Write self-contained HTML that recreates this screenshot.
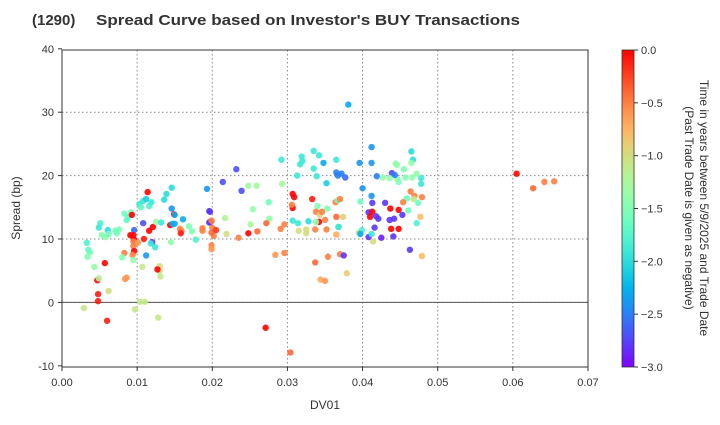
<!DOCTYPE html>
<html><head><meta charset="utf-8"><style>
body{margin:0;background:#fff;font-family:"Liberation Sans",sans-serif}
svg text{font-family:"Liberation Sans",sans-serif;fill:#333}
</style></head><body>
<svg id="c" width="720" height="420">
<defs><linearGradient id="cg" x1="0" y1="1" x2="0" y2="0"></linearGradient></defs>
<text x="32" y="25" font-size="15" font-weight="bold">(1290)</text>
<text x="96" y="25" font-size="15" font-weight="bold" textLength="424" lengthAdjust="spacingAndGlyphs">Spread Curve based on Investor's BUY Transactions</text>
<g id="grid"></g><g id="pts"></g><g id="axes"></g>
<text x="325" y="409" font-size="12" text-anchor="middle">DV01</text>
<text transform="translate(20,208) rotate(-90)" font-size="12" text-anchor="middle">Spread (bp)</text>
<rect x="622" y="50" width="12" height="317" fill="url(#cg)" stroke="#333" stroke-width="0.8"/>
<g id="cbt"></g>
<text transform="translate(700,208) rotate(90)" font-size="12" text-anchor="middle">Time in years between 5/9/2025 and Trade Date</text>
<text transform="translate(685,208) rotate(90)" font-size="12" text-anchor="middle">(Past Trade Date is given as negative)</text>
</svg>
<script>
const xTicks=[0,0.01,0.02,0.03,0.04,0.05,0.06,0.07];
const xTickLabels=["0.00","0.01","0.02","0.03","0.04","0.05","0.06","0.07"];
const yTicks=[-10,0,10,20,30,40];
const cTicks=[0,-0.5,-1,-1.5,-2,-2.5,-3];
const cTickLabels=["0.0","\u22120.5","\u22121.0","\u22121.5","\u22122.0","\u22122.5","\u22123.0"];
const dv01=[.0114,.0146,.0139,.0136,.0103,.0108,.0112,.0116,.0119,.0105,.0083,.0088,.0092,.0086,.0093,.0146,.0149,.015,.0161,.0051,.0049,.0061,.0071,.0076,.0073,.0053,.0058,.0062,.0096,.0108,.0121,.0116,.0125,.0132,.0144,.0147,.015,.0157,.0159,.0158,.0173,.0169,.0178,.0145,.0091,.0095,.0096,.0109,.0095,.0101,.0095,.0096,.0094,.0112,.0095,.012,.0124,.0118,.0033,.0035,.0037,.0034,.0043,.0057,.0083,.008,.0107,.013,.013,.0131,.0127,.0047,.0049,.0086,.0084,.0048,.0048,.0062,.0029,.0097,.0104,.011,.006,.0128,.0193,.0196,.0196,.0199,.02,.0202,.0199,.0187,
.0381,.0232,.0214,.0248,.0259,.0239,.0293,.0292,.0317,.0319,.032,.0313,.0335,.0342,.0335,.0339,.0348,.0352,.0365,.0365,.0367,.0372,.0377,.0396,.0412,.0412,.04,.0412,.0419,.0427,.0439,.0446,.0444,.0307,.0309,.0307,.0333,.0306,.0275,.0254,.034,.0353,.0364,.0367,.037,.0397,.0197,.0197,.0199,.0217,.0251,.0276,.0307,.0314,.0296,.0338,.0343,.0346,.0365,.0368,.035,.0342,.0328,.0338,.0337,.0352,.0315,.0325,.0325,.0365,.0368,.0374,.0395,.0399,.0397,.0408,.0412,.0414,.0408,.0413,.0413,.041,.0418,.0421,.0416,.0425,.0437,.0438,.0442,.0187,.0199,.0205,.0199,.0219,.0235,.0248,.026,.0272,.0291,.0284,.0296,.0354,.0337,.0344,.035,.037,.0375,.0379,.0271,.0304,
.0465,.0467,.0446,.0455,.0465,.0443,.0436,.0448,.0457,.0466,.0472,.0478,.0478,.0464,.0469,.0479,.0459,.0468,.0454,.0474,.0461,.043,.0448,.0453,.0477,.0436,.0472,.0448,.0441,.0463,.0479,.0605,.0642,.0655,.0627];
const spread=[17.4,18.1,17.1,16.2,15.5,16,16.3,15.2,15.8,15,14,13.5,14.2,13,13.8,14.8,13.9,13.8,13.1,12.5,11.8,11.4,11.3,11.5,10.9,10.6,10.3,10.8,11.4,12.5,11.9,11.3,12.7,12.6,12.2,12.4,12.4,11.6,11.3,10.9,11.2,12,9.9,9.5,10.6,10.6,9.9,10,9.6,9.4,8.9,8.1,7.5,7.4,6.7,9.5,8.7,9.3,9.4,8.3,7.9,7.2,5.6,6.2,7.8,7.1,5.6,5.7,5,4.1,5.2,3.5,3.8,3.9,3.7,1.3,0.2,1.8,-0.9,-1.1,0.1,0.1,-2.9,-2.4,17.9,14.4,12.6,12.8,11.8,10.5,9,11.7,
31.2,21,19,18.4,18.4,17.6,18.7,22.5,21.8,23,22.3,20,23.9,23.2,21.1,19.9,22,18.8,22.5,20.5,20,20.3,19.7,22,24.5,22,18,16.8,19.9,19.7,20.4,19.5,21.9,17.1,16.6,14.9,16.3,15.4,15.8,14.7,15.2,14.8,15.8,16.1,16.3,15.9,14.3,12.7,12.9,13.3,12.3,13.2,12.9,12.5,12.3,14.3,13.8,14.3,13.5,11.9,13,12.7,12.8,12.7,11.5,11.5,11.3,11.5,10.9,10.7,11.9,13.5,11,11.4,10.8,10.3,10.8,9.6,14.2,15.7,14.3,13.5,13.6,13.2,11.8,10.2,14.8,11.6,13.2,11.3,11,11.4,8.4,10.8,10.2,10.9,11.2,12.5,11.6,7.5,7.8,7.2,6.3,3.6,3.4,7.6,7.4,4.6,-4,-7.9,
23.8,22.5,21.7,21,22,20.1,19.6,19,19.7,19.7,20.3,19.6,18.7,17.5,16.8,16.6,16.4,16.3,15.8,15.7,14.5,15.7,14.6,13.8,13.5,13,12.5,11.6,10.4,8.3,7.3,20.3,19,19.1,18];
const years=[0,-2,-2,-2,-1.9,-1.9,-2.1,-1.8,-1.9,-1.7,-1.6,-1.7,-1.5,-1.7,0,-2.4,-0.1,-2.3,-2.3,-1.8,-1.9,-2,-1.6,-1.5,-1.6,-1.5,-1.4,-1.6,-2.6,-2.7,0,0,-1.3,-1.9,0,-2.3,-2.3,-0.5,-0.5,-0.1,-1.5,-1.5,-1.8,-1.4,0,0,0,-0.1,-0.5,-0.6,-0.5,0,-0.5,-2.4,-1.4,-2.8,-1.9,-1.9,-1.8,-1.7,-1.6,-1.5,-1.4,0,-0.5,-1.5,-1.1,-1,-1,-1.1,0,0,-1.2,-0.6,-0.6,-0.1,-0.1,-1,-1.1,-1.1,-1.1,-1.1,-0.1,-1.1,-2.4,-2.8,-2.8,-0.5,-0.5,-0.5,-0.5,-0.5,
-2.3,-2.7,-2.7,-1.3,-1.3,-2.7,-1.3,-1.9,-1.9,-1.9,-1.9,-1.9,-1.9,-1.9,-1.9,-1.9,-2.3,-2.1,-1.9,-2.5,-2.5,-2.5,-2.6,-2.4,-2.4,-2.4,-2.4,-2.4,-2.5,-1.4,-2.7,-1.4,-1.4,0,0,0,-0.1,-0.5,-1.6,-1.4,-1.5,-1.5,-0.5,-1.6,-0.5,-1.6,-2.8,-2.8,-0.5,-1.2,-1.3,-1.4,-1.9,-1.9,-0.5,-0.5,-0.9,-0.5,-0.4,-1.9,-0.5,0,-2,-1.4,-0.5,-0.5,-1,-1,-1,-0.7,-1.9,-0.9,-1,-1.8,-2.3,-2.8,-1.9,-1,-2.8,-2.8,0,0,-2.8,-2.8,-2.8,-2.9,0,0,-2.8,-0.5,-0.4,-0.2,-0.6,-1,-0.5,0,-0.4,-0.4,-0.5,-0.6,-0.5,-0.5,-0.4,-0.7,-0.6,-0.5,-2.8,-0.9,0,-0.4,
-2,-2,-1.4,-1.5,-1.4,-2.5,-1.4,-1.5,-1.5,-1.4,-1.4,-1.9,-1.9,-0.5,-0.5,-0.5,-1.6,-1.1,-0.5,-1.6,-1.6,-2.8,0,-2.8,-0.8,-2.8,-1.8,0,-2.8,-2.8,-0.8,0,-0.5,-0.5,-0.4];
const X=v=>62+v*7514, Y=v=>239-(v-10)*6.34;
function cmap(t){const n=(t+3)/3;const c=x=>Math.round(Math.max(0,Math.min(1,x))*255);
return `rgb(${c(Math.abs(2*n-0.5))},${c(Math.sin(Math.PI*n))},${c(Math.cos(Math.PI*n/2))})`;}
const NS="http://www.w3.org/2000/svg";
function mk(p,tag,a){const e=document.createElementNS(NS,tag);for(const k in a)e.setAttribute(k,a[k]);p.appendChild(e);return e;}
const grid=document.getElementById('grid'),axes=document.getElementById('axes'),pts=document.getElementById('pts'),cbt=document.getElementById('cbt');
xTicks.forEach((v,i)=>{const x=X(v);
 if(i>0&&i<xTicks.length-1){const l=mk(grid,'line',{x1:x,x2:x,y1:50,y2:367,stroke:'#888','stroke-dasharray':'1.5,2.5','stroke-width':1});
 }
 mk(axes,'line',{x1:x,x2:x,y1:367,y2:371,stroke:'#333'});
 const tx=mk(axes,'text',{x:x,y:386,'font-size':11,'text-anchor':'middle'});tx.textContent=xTickLabels[i];
 });
yTicks.forEach(v=>{const y=Y(v);
 if(v>-10&&v<40){const l=mk(grid,'line',{x1:62,x2:588,y1:y,y2:y,stroke:'#888','stroke-dasharray':'1.5,2.5','stroke-width':1});
 }
 mk(axes,'line',{x1:58,x2:62,y1:y,y2:y,stroke:'#333'});
 const tx=mk(axes,'text',{x:54,y:y+4,'font-size':11,'text-anchor':'end'});tx.textContent=v;
 });
const zl=mk(grid,'line',{x1:62,x2:588,y1:Y(0),y2:Y(0),stroke:'#555','stroke-width':1});

const fr=mk(axes,'rect',{x:62,y:50,width:526,height:317,fill:'none',stroke:'#333','stroke-width':1});

dv01.forEach((d,i)=>{const c=mk(pts,'circle',{cx:X(d),cy:Y(spread[i]),r:3.2,fill:cmap(years[i]),'fill-opacity':0.9});
 });
const cg=document.getElementById('cg');
for(let k=0;k<=20;k++){mk(cg,'stop',{offset:k/20,'stop-color':cmap(-3+3*k/20)});}
cTicks.forEach((v,i)=>{const y=50+(-v/3)*317;
 mk(cbt,'line',{x1:634,x2:638,y1:y,y2:y,stroke:'#333'});
 const tx=mk(cbt,'text',{x:641,y:y+4,'font-size':11});tx.textContent=cTickLabels[i];
 });
</script>
</body></html>
